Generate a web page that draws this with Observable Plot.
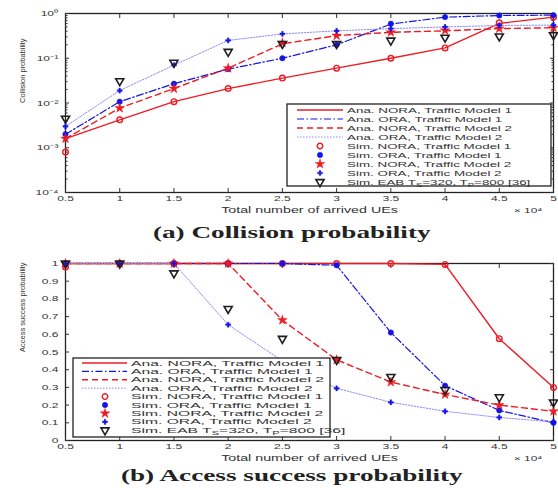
<!DOCTYPE html>
<html><head><meta charset="utf-8">
<script src="https://cdn.jsdelivr.net/npm/d3@7"></script>
<script src="https://cdn.jsdelivr.net/npm/@observablehq/plot@0.6"></script>
<style>
body{margin:0;background:#fff;}
#wrap{position:relative;width:558px;height:488px;overflow:hidden;font-family:"Liberation Sans",Arial,sans-serif;}
.cap{position:absolute;left:13px;width:558px;text-align:center;font-family:"Liberation Serif","Times New Roman",serif;font-size:17px;font-weight:bold;line-height:20px;color:#222;}
.cap span{display:inline-block;transform:scaleX(1.6);}
</style></head><body>
<div id="wrap">
  <div id="top" style="position:absolute;left:0;top:0"></div>
  <div class="cap" style="top:223px"><span>(a) Collision probability</span></div>
  <div id="bot" style="position:absolute;left:0;top:240px"></div>
  <div class="cap" style="top:466px"><span>(b) Access success probability</span></div>
</div>
<script>
// ---------- data ----------
const xs = [0.5, 1, 1.5, 2, 2.5, 3, 3.5, 4, 4.5, 5];
const xTickLabels = ["0.5", "1", "1.5", "2", "2.5", "3", "3.5", "4", "4.5", "5"];

// (a) collision probability
const topAnaNora1 = [1.6e-3, 4.2e-3, 1.07e-2, 2.1e-2, 3.6e-2, 6.0e-2, 0.10, 0.17, 0.60, 0.83];
const topSimNora1 = [8.0e-4, 4.2e-3, 1.07e-2, 2.1e-2, 3.6e-2, 6.0e-2, 0.10, 0.17, 0.62, 0.83];
const topAnaOra1  = [2.0e-3, 1.07e-2, 2.7e-2, 5.7e-2, 0.10, 0.20, 0.58, 0.83, 0.90, 0.92];
const topSimOra1  = [2.0e-3, 1.07e-2, 2.7e-2, 5.7e-2, 0.10, 0.20, 0.59, 0.83, 0.90, 0.92];
const topAnaNora2 = [1.6e-3, 7.7e-3, 2.1e-2, 6.0e-2, 0.21, 0.32, 0.38, 0.41, 0.46, 0.48];
const topSimNora2 = [1.6e-3, 7.7e-3, 2.1e-2, 6.0e-2, 0.22, 0.32, 0.38, 0.42, 0.46, 0.48];
const topAnaOra2  = [3.0e-3, 1.9e-2, 7.0e-2, 0.25, 0.35, 0.41, 0.46, 0.50, 0.54, 0.55];
const topSimOra2  = [3.0e-3, 1.9e-2, 7.0e-2, 0.25, 0.35, 0.41, 0.46, 0.50, 0.54, 0.55];
const topSimEab   = [4.5e-3, 3.1e-2, 8.0e-2, 0.14, 0.21, 0.21, 0.25, 0.29, 0.31, 0.33];
const topYTicks = [1e-4, 1e-3, 1e-2, 1e-1, 1];
const topYTickLabels = ["10\u207B\u2074", "10\u207B\u00B3", "10\u207B\u00B2", "10\u207B\u00B9", "10\u2070"];

// (b) access success probability
const botAnaNora1 = [1, 1, 1, 1, 1, 1, 1, 0.995, 0.575, 0.30];
const botSimNora1 = [0.98, 1, 1, 1, 1, 1, 1, 0.995, 0.575, 0.30];
const botAnaOra1  = [1, 1, 1, 1, 1, 0.99, 0.61, 0.31, 0.17, 0.10];
const botSimOra1  = [1, 1, 1, 1, 1, 0.99, 0.61, 0.31, 0.17, 0.10];
const botAnaNora2 = [1, 1, 1, 1, 0.68, 0.456, 0.33, 0.26, 0.20, 0.165];
const botSimNora2 = [1, 1, 1, 1, 0.68, 0.456, 0.33, 0.26, 0.20, 0.165];
const botAnaOra2  = [1, 1, 1, 0.654, 0.45, 0.295, 0.216, 0.165, 0.13, 0.105];
const botSimOra2  = [1, 1, 1, 0.654, 0.45, 0.295, 0.216, 0.165, 0.13, 0.105];
const botSimEab   = [1, 1, 0.945, 0.744, 0.575, 0.456, 0.36, 0.286, 0.245, 0.216];
const botYTicks = [0, 0.1, 0.2, 0.3, 0.4, 0.5, 0.6, 0.7, 0.8, 0.9, 1];
const botYTickLabels = ["0", "0.1", "0.2", "0.3", "0.4", "0.5", "0.6", "0.7", "0.8", "0.9", "1"];

const legendLabels = [
  "Ana. NORA, Traffic Model 1",
  "Ana. ORA, Traffic Model 1",
  "Ana. NORA, Traffic Model 2",
  "Ana. ORA, Traffic Model 2",
  "Sim. NORA, Traffic Model 1",
  "Sim. ORA, Traffic Model 1",
  "Sim. NORA, Traffic Model 2",
  "Sim. ORA, Traffic Model 2",
  "Sim. EAB T_S=320, T_P=800 [36]"
];
const xLabel = "Total number of arrived UEs";
const xScaleNote = "\u00D7 10\u2074";

// ---------- styles ----------
const RED = "#ec1c24", BLUE = "#1414e6", LBLUE = "#8c8cf4", BLACK = "#1e1e1e";
const lineStyles = [
  {stroke: RED, strokeWidth: 1.4, dash: null},
  {stroke: BLUE, strokeWidth: 1.2, dash: "7,2.5,1.5,2.5"},
  {stroke: RED, strokeWidth: 1.4, dash: "6,4"},
  {stroke: LBLUE, strokeWidth: 1, dash: "1.5,1.5"}
];
const dotStyles = [
  {symbol: "circle", fill: "none", stroke: RED, strokeWidth: 1.4, r: 2.8, rotate: 0, d3sym: d3.symbolCircle},
  {symbol: "circle", fill: BLUE, stroke: BLUE, strokeWidth: 0.5, r: 2.7, rotate: 0, d3sym: d3.symbolCircle},
  {symbol: "star", fill: RED, stroke: RED, strokeWidth: 0.5, r: 3, rotate: 0, d3sym: d3.symbolStar},
  {symbol: "cross", fill: BLUE, stroke: BLUE, strokeWidth: 0.3, r: 2.2, rotate: 0, d3sym: d3.symbolCross},
  {symbol: "triangle", fill: "none", stroke: BLACK, strokeWidth: 1.6, r: 3, rotate: 180, d3sym: d3.symbolTriangle}
];

const FONT = "Liberation Sans, Arial, sans-serif";

function chart({ana, sim, yOpts, yTicks, yTickLabels, yMinor, yLabel, height, marginTop, marginBottom}) {
  const marks = [
    Plot.frame({stroke: "#222", strokeWidth: 1.3}),
    Plot.axisX({anchor: "bottom", ticks: xs, tickSize: 0, tickPadding: 3, tickFormat: d => xTickLabels[xs.indexOf(d)], label: null, fontSize: 8}),
    Plot.axisX({anchor: "bottom", ticks: xs, tickSize: -4, tickFormat: () => "", label: null}),
    Plot.axisX({anchor: "top", ticks: xs, tickSize: -4, tickFormat: () => "", label: null}),
    Plot.axisY({anchor: "left", ticks: yTicks, tickSize: 0, tickPadding: 7, tickFormat: d => yTickLabels[yTicks.indexOf(d)], label: null, fontSize: 8}),
    Plot.axisY({anchor: "left", ticks: yTicks, tickSize: -4, tickFormat: () => "", label: null}),
    Plot.axisY({anchor: "right", ticks: yTicks, tickSize: -4, tickFormat: () => "", label: null})
  ];
  if (yMinor) {
    marks.push(Plot.axisY({anchor: "left", ticks: yMinor, tickSize: -2.5, tickFormat: () => "", label: null}));
    marks.push(Plot.axisY({anchor: "right", ticks: yMinor, tickSize: -2.5, tickFormat: () => "", label: null}));
  }
  ana.forEach((ys, k) => {
    const s = lineStyles[k];
    marks.push(Plot.lineY(ys, {x: xs, y: d => d, stroke: s.stroke, strokeWidth: s.strokeWidth, strokeDasharray: s.dash}));
  });
  sim.forEach((ys, k) => {
    const s = dotStyles[k];
    marks.push(Plot.dot(ys, {x: xs, y: d => d, symbol: s.symbol, fill: s.fill, stroke: s.stroke, strokeWidth: s.strokeWidth, r: s.r, rotate: s.rotate}));
  });
  marks.push(Plot.text([xLabel], {text: d => d, frameAnchor: "bottom", dy: 20, fontSize: 9.5, fill: "#333"}));
  marks.push(Plot.text([xScaleNote], {text: d => d, frameAnchor: "bottom-right", dx: -11, dy: 20, textAnchor: "end", fontSize: 8, fill: "#333"}));
  marks.push(Plot.text([yLabel], {text: d => d, frameAnchor: "left", rotate: -90, dx: -43, fontSize: 7.5, fill: "#333"}));
  return Plot.plot({
    width: 558, height, marginTop, marginBottom, marginLeft: 65, marginRight: 5,
    style: {fontFamily: FONT, fontSize: "8px", color: "#333", background: "transparent", overflow: "visible"},
    x: {domain: [0.5, 5]},
    y: yOpts,
    marks
  });
}

function stretchTexts(root, f) {
  root.querySelectorAll("text").forEach(t => {
    const tr = t.getAttribute("transform") || "";
    if (tr.includes("rotate")) return;
    const w = t.getComputedTextLength();
    if (w > 0) { t.setAttribute("textLength", (w * f).toFixed(2)); t.setAttribute("lengthAdjust", "spacingAndGlyphs"); }
  });
}

function drawLegend(svg, o) {
  const g = d3.select(svg).append("g").attr("font-family", FONT).attr("font-size", o.fs)
    .attr("fill", "#333").attr("text-anchor", "start");
  g.append("rect").attr("x", o.x).attr("y", o.y).attr("width", o.w).attr("height", o.h)
    .attr("fill", "#fff").attr("stroke", "#222").attr("stroke-width", 1.3);
  const texts = [];
  legendLabels.forEach((lab, i) => {
    const y = o.y0 + i * o.dy;
    if (i < 4) {
      const s = lineStyles[i];
      g.append("line").attr("x1", o.l0).attr("x2", o.l1).attr("y1", y).attr("y2", y)
        .attr("stroke", s.stroke).attr("stroke-width", s.strokeWidth).attr("stroke-dasharray", s.dash);
    } else {
      const s = dotStyles[i - 4];
      g.append("path").attr("transform", `translate(${o.mx},${y}) rotate(${s.rotate})`)
        .attr("d", d3.symbol(s.d3sym, Math.PI * s.r * s.r)())
        .attr("fill", s.fill).attr("stroke", s.stroke).attr("stroke-width", s.strokeWidth);
    }
    const t = g.append("text").attr("x", o.tx).attr("y", y).attr("dy", "0.35em").attr("text-anchor", "start");
    const parts = lab.split(/_(\w)/);
    parts.forEach((p, j) => {
      if (j % 2 === 1) t.append("tspan").attr("font-size", o.fs * 0.7).attr("dy", 2).text(p);
      else { const ts = t.append("tspan").text(p); if (j > 0) ts.attr("dy", -2); }
    });
    texts.push(t.node());
  });
  const f = o.textW / texts[0].getComputedTextLength();
  texts.forEach(t => {
    const w = t.getComputedTextLength();
    t.setAttribute("textLength", (w * f).toFixed(2));
    t.setAttribute("lengthAdjust", "spacingAndGlyphs");
  });
}

// minor log ticks (axis decoration only)
const topMinor = d3.scaleLog().domain([1e-4, 1]).ticks().filter(v => !topYTicks.some(t => Math.abs(t - v) < t * 1e-6));

const topSvg = chart({
  ana: [topAnaNora1, topAnaOra1, topAnaNora2, topAnaOra2],
  sim: [topSimNora1, topSimOra1, topSimNora2, topSimOra2, topSimEab],
  yOpts: {type: "log", domain: [1e-4, 1]},
  yTicks: topYTicks, yTickLabels: topYTickLabels, yMinor: topMinor,
  yLabel: "Collision probability",
  height: 222, marginTop: 13, marginBottom: 30
});
document.getElementById("top").appendChild(topSvg);
stretchTexts(topSvg, 1.5);
drawLegend(topSvg, {x: 287, y: 104, w: 264, h: 82, y0: 110, dy: 9, l0: 297, l1: 343, mx: 320, tx: 347, textW: 165, fs: 7.5});

const botSvg = chart({
  ana: [botAnaNora1, botAnaOra1, botAnaNora2, botAnaOra2],
  sim: [botSimNora1, botSimOra1, botSimNora2, botSimOra2, botSimEab],
  yOpts: {domain: [0, 1]},
  yTicks: botYTicks, yTickLabels: botYTickLabels, yMinor: null,
  yLabel: "Access success probability",
  height: 230, marginTop: 23, marginBottom: 30
});
document.getElementById("bot").appendChild(botSvg);
stretchTexts(botSvg, 1.5);
drawLegend(botSvg, {x: 73, y: 118, w: 257, h: 79, y0: 123, dy: 8.4, l0: 82, l1: 127, mx: 105, tx: 131, textW: 193, fs: 7.5});
</script>
</body></html>
